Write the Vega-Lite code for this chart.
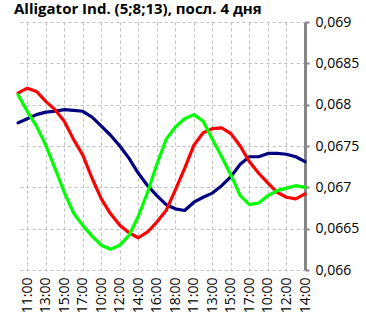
{
  "$schema": "https://vega.github.io/schema/vega-lite/v6.json",
  "autosize": "none",
  "width": 287,
  "height": 248,
  "padding": {"left": 18, "top": 22, "right": 61, "bottom": 54},
  "background": "white",
  "title": {
    "text": "Alligator Ind. (5;8;13), посл. 4 дня",
    "anchor": "start",
    "frame": "group",
    "font": "Open Sans",
    "fontSize": 15,
    "fontWeight": "bold",
    "color": "#000000",
    "dx": -4,
    "offset": -2
  },
  "data": {
    "values": [
      {"t": "1 10:00", "jaw": 0.06778, "teeth": 0.06814, "lips": 0.06812},
      {"t": "1 11:00", "jaw": 0.06783, "teeth": 0.0682, "lips": 0.06792},
      {"t": "1 12:00", "jaw": 0.06788, "teeth": 0.06816, "lips": 0.06774},
      {"t": "1 13:00", "jaw": 0.06791, "teeth": 0.06804, "lips": 0.06751},
      {"t": "1 14:00", "jaw": 0.06792, "teeth": 0.06794, "lips": 0.06723},
      {"t": "1 15:00", "jaw": 0.06794, "teeth": 0.0678, "lips": 0.06694},
      {"t": "1 16:00", "jaw": 0.06793, "teeth": 0.06758, "lips": 0.06669},
      {"t": "1 17:00", "jaw": 0.06792, "teeth": 0.06739, "lips": 0.06654},
      {"t": "1 18:00", "jaw": 0.06785, "teeth": 0.06711, "lips": 0.06641},
      {"t": "2 10:00", "jaw": 0.06774, "teeth": 0.06686, "lips": 0.0663},
      {"t": "2 11:00", "jaw": 0.06763, "teeth": 0.06668, "lips": 0.06625},
      {"t": "2 12:00", "jaw": 0.0675, "teeth": 0.06654, "lips": 0.0663},
      {"t": "2 13:00", "jaw": 0.06735, "teeth": 0.06645, "lips": 0.06642},
      {"t": "2 14:00", "jaw": 0.06717, "teeth": 0.06639, "lips": 0.06665},
      {"t": "2 15:00", "jaw": 0.06702, "teeth": 0.06646, "lips": 0.06694},
      {"t": "2 16:00", "jaw": 0.0669, "teeth": 0.06658, "lips": 0.06728},
      {"t": "2 17:00", "jaw": 0.06679, "teeth": 0.06672, "lips": 0.06758},
      {"t": "2 18:00", "jaw": 0.06674, "teeth": 0.06697, "lips": 0.06773},
      {"t": "3 10:00", "jaw": 0.06672, "teeth": 0.06723, "lips": 0.06783},
      {"t": "3 11:00", "jaw": 0.06682, "teeth": 0.06751, "lips": 0.06788},
      {"t": "3 12:00", "jaw": 0.06688, "teeth": 0.06766, "lips": 0.0678},
      {"t": "3 13:00", "jaw": 0.06693, "teeth": 0.06771, "lips": 0.06758},
      {"t": "3 14:00", "jaw": 0.06702, "teeth": 0.06772, "lips": 0.06737},
      {"t": "3 15:00", "jaw": 0.06713, "teeth": 0.06765, "lips": 0.06715},
      {"t": "3 16:00", "jaw": 0.06728, "teeth": 0.0675, "lips": 0.0669},
      {"t": "3 17:00", "jaw": 0.06737, "teeth": 0.06731, "lips": 0.06679},
      {"t": "3 18:00", "jaw": 0.06737, "teeth": 0.06717, "lips": 0.06681},
      {"t": "4 10:00", "jaw": 0.06741, "teeth": 0.06705, "lips": 0.0669},
      {"t": "4 11:00", "jaw": 0.06741, "teeth": 0.06694, "lips": 0.06696},
      {"t": "4 12:00", "jaw": 0.0674, "teeth": 0.06688, "lips": 0.06699},
      {"t": "4 13:00", "jaw": 0.06737, "teeth": 0.06686, "lips": 0.06702},
      {"t": "4 14:00", "jaw": 0.06731, "teeth": 0.06692, "lips": 0.067}
    ]
  },
  "transform": [
    {"fold": ["jaw", "teeth", "lips"], "as": ["series", "value"]}
  ],
  "mark": {"type": "line", "strokeWidth": 3.2, "strokeJoin": "round", "strokeCap": "round"},
  "encoding": {
    "x": {
      "field": "t",
      "type": "ordinal",
      "sort": null,
      "scale": {"type": "point", "padding": 0},
      "axis": {
        "title": null,
        "values": ["1 11:00", "1 13:00", "1 15:00", "1 17:00", "2 10:00", "2 12:00", "2 14:00", "2 16:00", "2 18:00", "3 11:00", "3 13:00", "3 15:00", "3 17:00", "4 10:00", "4 12:00", "4 14:00"],
        "labelExpr": "split(datum.value, ' ')[1]",
        "labelAngle": 270,
        "labelAlign": "right",
        "labelBaseline": "middle",
        "labelPadding": 7,
        "labelFont": "Open Sans",
        "labelFontSize": 14,
        "labelColor": "#000000",
        "labelOverlap": false,
        "labelBound": false,
        "ticks": false,
        "domain": false,
        "grid": true,
        "gridColor": "#bfbfbf",
        "gridDash": [3, 3],
        "gridWidth": 1
      }
    },
    "y": {
      "field": "value",
      "type": "quantitative",
      "scale": {"domain": [0.066, 0.069], "nice": false, "zero": false},
      "axis": {
        "title": null,
        "orient": "right",
        "values": [0.066, 0.0665, 0.067, 0.0675, 0.068, 0.0685, 0.069],
        "labelExpr": "replace(format(datum.value, '.4~f'), '.', ',')",
        "labelFont": "Open Sans",
        "labelFontSize": 14,
        "labelColor": "#000000",
        "labelPadding": 6,
        "labelOverlap": false,
        "domainColor": "#868686",
        "domainWidth": 3,
        "tickColor": "#868686",
        "tickWidth": 2,
        "tickSize": 4,
        "grid": true,
        "gridColor": "#bfbfbf",
        "gridDash": [3, 3],
        "gridWidth": 1
      }
    },
    "color": {
      "field": "series",
      "type": "nominal",
      "sort": ["jaw", "teeth", "lips"],
      "scale": {"domain": ["jaw", "teeth", "lips"], "range": ["#000080", "#ff0000", "#00ff00"]},
      "legend": null
    },
    "order": {"field": "series"}
  },
  "config": {"view": {"stroke": null}}
}
